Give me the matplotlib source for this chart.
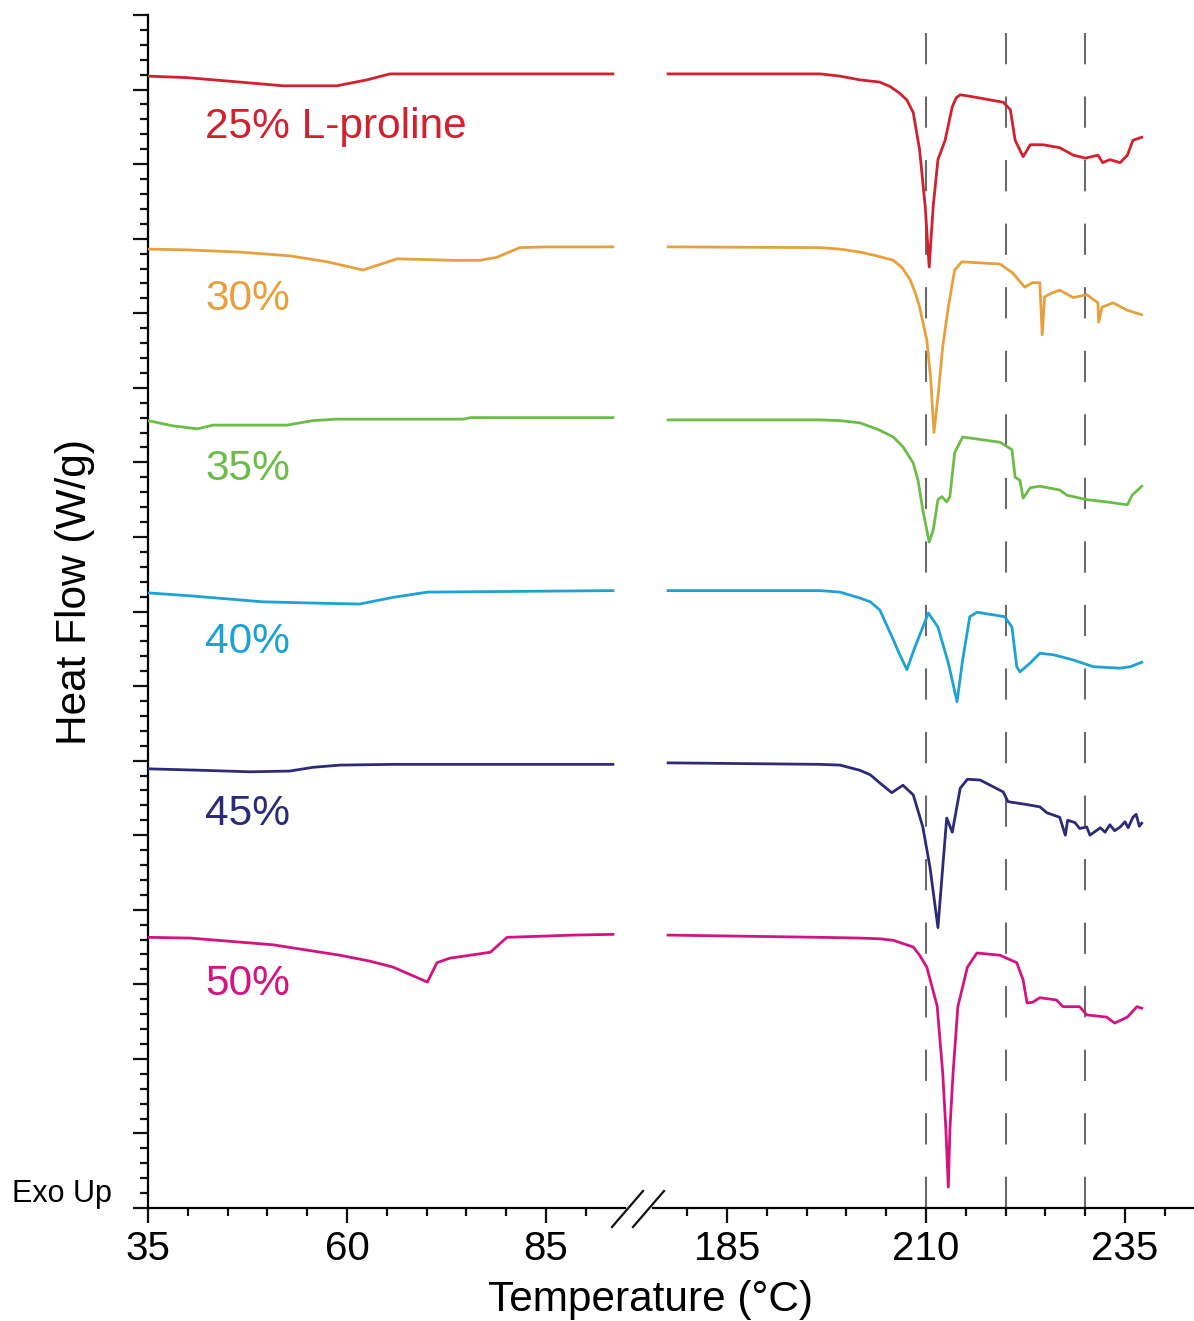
import matplotlib
matplotlib.use("Agg")
import matplotlib.pyplot as plt
from matplotlib.ticker import MultipleLocator

plt.rcParams['font.family'] = ['Liberation Sans', 'DejaVu Sans']

# ---------------- data (temperature in °C, heat flow in arbitrary stacked units) -------------
labels = ["25% L-proline", "30%", "35%", "40%", "45%", "50%"]
colors = ["#d3202f", "#e8a03c", "#6bbd48", "#1ca2d4", "#2c2b7a", "#d4147e"]
label_y = [14.35, 12.04, 9.76, 7.44, 5.14, 2.86]

# low-temperature segment
t25_lo = [35, 39.9, 46.6, 52.0, 58.7, 62.5, 65.4, 93.4]
h25_lo = [15.18, 15.16, 15.10, 15.05, 15.05, 15.13, 15.21, 15.21]
t30_lo = [35, 39.9, 46.6, 52.8, 57.5, 62.0, 66.3, 73.3, 76.7, 78.8, 81.7, 85.1, 93.4]
h30_lo = [12.86, 12.85, 12.82, 12.77, 12.69, 12.58, 12.73, 12.71, 12.71, 12.75, 12.88, 12.89, 12.89]
t35_lo = [35, 38.1, 41.2, 43.2, 52.5, 55.7, 58.7, 74.6, 75.5, 93.4]
h35_lo = [10.56, 10.49, 10.45, 10.50, 10.50, 10.56, 10.58, 10.58, 10.60, 10.60]
t40_lo = [35, 40.3, 49.4, 57.0, 61.6, 65.8, 70.1, 93.4]
h40_lo = [8.25, 8.21, 8.13, 8.11, 8.10, 8.19, 8.26, 8.28]
t45_lo = [35, 41.9, 47.8, 52.8, 55.7, 59.1, 65.8, 93.4]
h45_lo = [5.89, 5.87, 5.85, 5.86, 5.91, 5.94, 5.95, 5.95]
t50_lo = [35, 40.3, 50.7, 59.1, 62.9, 65.8, 70.1, 71.3, 72.9, 78.0, 80.1, 88.4, 93.4]
h50_lo = [3.63, 3.62, 3.53, 3.39, 3.31, 3.23, 3.03, 3.29, 3.35, 3.43, 3.63, 3.66, 3.67]

# high-temperature segment
t25_hi = [177.6, 196.7, 199.2, 201.7, 204.2, 205.5, 206.7, 207.6, 208.4, 209.2, 209.9, 210.4,
          210.9, 211.5, 212.4, 213.3, 213.8, 214.3, 215.5, 219.7, 220.6, 221.2, 222.2, 223.1,
          224.7, 226.8, 228.5, 229.3, 230.0, 231.6, 232.2, 233.1, 234.4, 235.3, 236.0, 237.1]
h25_hi = [15.21, 15.21, 15.18, 15.13, 15.10, 15.04, 14.95, 14.86, 14.69, 14.19, 13.43, 12.62,
          13.43, 14.06, 14.32, 14.77, 14.89, 14.93, 14.91, 14.83, 14.73, 14.32, 14.10, 14.26,
          14.26, 14.22, 14.12, 14.10, 14.08, 14.12, 14.02, 14.06, 14.02, 14.12, 14.32, 14.36]
t30_hi = [177.6, 196.7, 199.2, 201.7, 203.8, 205.9, 207.0, 208.0, 208.6, 209.2, 210.1, 210.6,
          211.0, 211.5, 212.1, 212.8, 213.6, 214.5, 219.3, 220.9, 222.4, 223.4, 224.3, 224.6,
          224.9, 225.8, 226.8, 228.5, 230.2, 231.6, 231.7, 232.1, 233.5, 235.3, 237.1]
h30_hi = [12.89, 12.88, 12.86, 12.82, 12.77, 12.71, 12.61, 12.45, 12.29, 12.08, 11.64, 11.11,
          10.40, 10.88, 11.55, 12.08, 12.58, 12.69, 12.66, 12.54, 12.35, 12.41, 12.41, 11.71,
          12.22, 12.27, 12.31, 12.21, 12.25, 12.14, 11.88, 12.08, 12.14, 12.04, 11.98]
t35_hi = [177.6, 196.7, 199.2, 201.7, 204.0, 205.9, 207.1, 208.4, 209.0, 209.6, 210.4, 210.9,
          211.5, 212.0, 212.6, 213.0, 213.6, 214.6, 219.3, 220.8, 221.2, 221.8, 222.2, 223.1,
          224.3, 226.8, 227.7, 230.2, 232.7, 235.3, 235.9, 237.1]
h35_hi = [10.57, 10.57, 10.56, 10.53, 10.44, 10.34, 10.21, 9.99, 9.76, 9.36, 8.93, 9.09,
          9.50, 9.54, 9.47, 9.54, 10.13, 10.34, 10.27, 10.17, 9.80, 9.76, 9.52, 9.66,
          9.68, 9.63, 9.56, 9.50, 9.47, 9.43, 9.56, 9.68]
t40_hi = [177.6, 196.7, 199.2, 201.7, 203.0, 204.2, 205.9, 206.7, 207.6, 208.6, 210.3, 211.5,
          212.8, 213.9, 214.6, 215.5, 216.4, 219.9, 220.8, 221.4, 221.8, 223.1, 224.3, 226.0,
          228.5, 231.0, 234.4, 235.7, 237.1]
h40_hi = [8.28, 8.28, 8.26, 8.18, 8.13, 8.02, 7.62, 7.42, 7.22, 7.52, 7.98, 7.79,
          7.31, 6.79, 7.35, 7.93, 7.99, 7.93, 7.79, 7.26, 7.19, 7.31, 7.44, 7.42,
          7.35, 7.26, 7.24, 7.26, 7.32]
t45_hi = [177.6, 196.7, 199.2, 201.7, 203.0, 204.2, 205.7, 207.1, 208.4, 209.6, 210.5, 211.5,
          212.1, 212.6, 213.3, 214.3, 215.2, 216.8, 219.7, 220.3, 222.7, 224.3, 225.2, 226.8,
          227.5, 227.8, 228.7, 229.3, 230.2, 230.6, 231.9, 232.5, 233.1, 233.7, 234.4, 235.0,
          235.4, 236.0, 236.4, 236.8, 237.1]
h45_hi = [5.97, 5.95, 5.94, 5.87, 5.81, 5.70, 5.57, 5.67, 5.54, 5.11, 4.57, 3.76,
          4.57, 5.23, 5.04, 5.63, 5.75, 5.74, 5.58, 5.45, 5.41, 5.38, 5.30, 5.24,
          5.00, 5.20, 5.17, 5.09, 5.11, 5.00, 5.10, 5.04, 5.14, 5.06, 5.11, 5.18,
          5.10, 5.24, 5.28, 5.12, 5.16]
t50_hi = [177.6, 196.7, 201.7, 204.2, 205.9, 208.4, 209.2, 210.1, 210.7, 211.4, 212.1, 212.5,
          212.8, 213.0, 213.4, 214.0, 215.2, 216.4, 219.3, 221.4, 222.2, 222.7, 223.4, 224.3,
          226.4, 227.2, 229.3, 230.2, 232.7, 233.7, 235.3, 236.5, 237.1]
h50_hi = [3.66, 3.63, 3.62, 3.61, 3.59, 3.50, 3.39, 3.23, 2.99, 2.71, 1.81, 1.05,
          0.28, 1.05, 1.81, 2.70, 3.23, 3.42, 3.39, 3.29, 3.06, 2.75, 2.76, 2.82,
          2.79, 2.70, 2.70, 2.59, 2.56, 2.48, 2.56, 2.70, 2.68]

lo_t = [t25_lo, t30_lo, t35_lo, t40_lo, t45_lo, t50_lo]
lo_h = [h25_lo, h30_lo, h35_lo, h40_lo, h45_lo, h50_lo]
hi_t = [t25_hi, t30_hi, t35_hi, t40_hi, t45_hi, t50_hi]
hi_h = [h25_hi, h30_hi, h35_hi, h40_hi, h45_hi, h50_hi]

ref_lines = [210, 220, 230]
lo_major = [35, 60, 85]
hi_major = [185, 210, 235]

# ---------------- figure -------------
W, H = 1194, 1321
fig = plt.figure(figsize=(W / 100, H / 100), dpi=100)
bottom = (H - 1208) / H
height = 1193 / H
ax1 = fig.add_axes([148 / W, bottom, (625 - 148) / W, height])
ax2 = fig.add_axes([653 / W, bottom, (W - 653) / W, height])

for ax in (ax1, ax2):
    ax.set_ylim(0, 16)
    for s in ("top", "right"):
        ax.spines[s].set_visible(False)
    ax.spines["bottom"].set_linewidth(1.6)
    ax.spines["left"].set_linewidth(1.6)
    ax.tick_params(axis="both", which="major", direction="out", length=11, width=1.6,
                   labelsize=29, pad=5, color="#111111")
    ax.tick_params(axis="both", which="minor", direction="out", length=5.5, width=1.6,
                   color="#111111")
    ax.patch.set_alpha(0)

ax1.set_xlim(35, 94.92)
ax2.set_xlim(175.70, 243.67)
ax1.set_xticks(lo_major)
ax2.set_xticks(hi_major)
ax1.xaxis.set_minor_locator(MultipleLocator(5))
ax2.xaxis.set_minor_locator(MultipleLocator(5))
ax1.yaxis.set_major_locator(MultipleLocator(1))
ax1.yaxis.set_minor_locator(MultipleLocator(0.2))
ax1.set_yticklabels([])
ax2.spines["left"].set_visible(False)
ax2.tick_params(axis="y", which="both", left=False, labelleft=False)

for x in ref_lines:
    ax2.plot([x, x], [0, 16], color="#6a6a6a", lw=1.5, dashes=(15, 15.5), zorder=1)

for t, h, c in zip(lo_t, lo_h, colors):
    ax1.plot(t, h, color=c, lw=2.0, solid_joinstyle="round", zorder=3)
for t, h, c in zip(hi_t, hi_h, colors):
    ax2.plot(t, h, color=c, lw=2.0, solid_joinstyle="round", zorder=3)

for lab, y, c in zip(labels, label_y, colors):
    ax1.text(42.2, y, lab, color=c, fontsize=30.5, ha="left", va="baseline")

# axis break marks
for x0 in (612, 633):
    fig.add_artist(plt.Line2D([x0 / W, (x0 + 31) / W], [1 - 1227 / H, 1 - 1191 / H],
                              transform=fig.transFigure, color="#111111", lw=1.6))

fig.text(12 / W, 1 - 1202 / H, "Exo Up", fontsize=22, ha="left", va="baseline")
fig.text(75 / W, 1 - 592 / H, "Heat Flow (W/g)", fontsize=30.5, rotation=90,
         ha="center", va="center")
fig.text(651 / W, 1 - 1311 / H, "Temperature (°C)", fontsize=30.5, ha="center", va="baseline")

fig.savefig("out.png", dpi=100)
